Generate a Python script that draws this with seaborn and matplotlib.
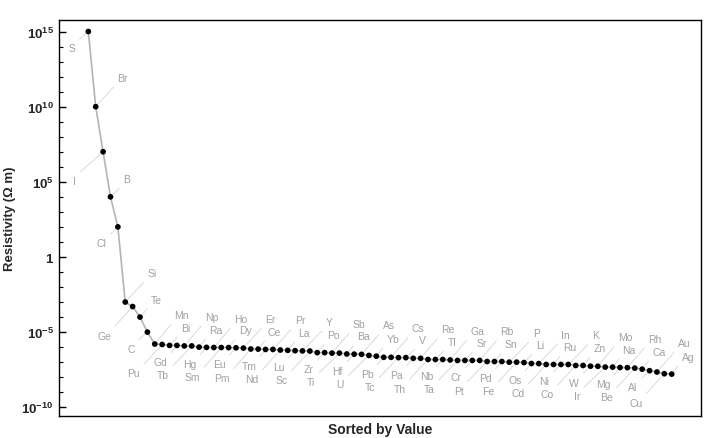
import matplotlib
matplotlib.use("Agg")
import matplotlib.pyplot as plt
import seaborn as sns
import numpy as np
import pandas as pd

# ---- data (sorted by value, descending) ----
elements = ["S", "Br", "I", "B", "Cl", "Si", "Ge", "Te", "C",
            "Mn", "Pu", "Bi", "Gd", "Np", "Tb", "Ra", "Hg", "Ho", "Sm",
            "Dy", "Eu", "Er", "Pm", "Ce", "Tm", "Pr", "Nd", "La", "Lu",
            "Y", "Sc", "Po", "Zr", "Sb", "Ti", "Ba", "Hf", "As", "U",
            "Yb", "Pb", "Cs", "Tc", "V", "Pa", "Re", "Th", "Tl", "Nb",
            "Ga", "Ta", "Sr", "Cr", "Rb", "Pt", "Sn", "Pd", "P", "Fe",
            "Li", "Os", "In", "Cd", "Ru", "Ni", "K", "Co", "Zn", "W",
            "Mo", "Ir", "Na", "Mg", "Rh", "Be", "Ca", "Al", "Au", "Cu", "Ag"]
resistivity = [1e15, 1e10, 1e7, 1e4, 1e2, 1e-3, 5e-4, 1e-4, 1e-5,
               1.6e-6, 1.5e-6, 1.3e-6, 1.3e-6, 1.2e-6, 1.2e-6, 1.0e-6, 9.6e-7, 9.4e-7, 9.4e-7,
               9.3e-7, 9.0e-7, 8.6e-7, 7.5e-7, 7.4e-7, 7.0e-7, 7.0e-7, 6.4e-7, 6.1e-7, 5.8e-7,
               5.6e-7, 5.5e-7, 4.3e-7, 4.3e-7, 4.0e-7, 4.0e-7, 3.5e-7, 3.4e-7, 3.3e-7, 2.8e-7,
               2.5e-7, 2.1e-7, 2.1e-7, 2.0e-7, 2.0e-7, 1.8e-7, 1.8e-7, 1.5e-7, 1.5e-7, 1.5e-7,
               1.4e-7, 1.3e-7, 1.3e-7, 1.3e-7, 1.3e-7, 1.1e-7, 1.1e-7, 1.1e-7, 1.0e-7, 1.0e-7,
               9.4e-8, 8.1e-8, 8.0e-8, 7.0e-8, 7.0e-8, 7.0e-8, 7.0e-8, 6.0e-8, 6.0e-8, 5.4e-8,
               5.3e-8, 4.7e-8, 4.7e-8, 4.4e-8, 4.3e-8, 4.0e-8, 3.4e-8, 2.7e-8, 2.2e-8, 1.7e-8, 1.6e-8]
ytick_values = [1e15, 1e10, 1e5, 1, 1e-5, 1e-10]
ytick_labels = [r"$\mathbf{10^{15}}$", r"$\mathbf{10^{10}}$", r"$\mathbf{10^{5}}$",
                r"$\mathbf{1}$", r"$\mathbf{10^{-5}}$", r"$\mathbf{10^{-10}}$"]

df = pd.DataFrame({"rank": np.arange(len(elements)),
                   "element": elements, "value": resistivity})

sns.set_theme(style="white")
plt.rcParams["font.family"] = ["Liberation Sans", "DejaVu Sans"]
plt.rcParams["mathtext.fontset"] = "custom"
plt.rcParams["mathtext.rm"] = "Liberation Sans"
plt.rcParams["mathtext.bf"] = "Liberation Sans:bold"
plt.rcParams["mathtext.it"] = "Liberation Sans:italic"

fig = plt.figure(figsize=(7.2, 4.39), dpi=100)
ax = fig.add_axes([59.3 / 720, 1 - 416.5 / 439, (700.5 - 59.3) / 720, (416.5 - 20.5) / 439])

sns.lineplot(data=df, x="rank", y="value", ax=ax, color="#b4b4b4", lw=1.2,
             zorder=2, estimator=None, sort=False)
sns.scatterplot(data=df, x="rank", y="value", ax=ax, color="black", s=17,
                edgecolor="none", zorder=3)
ax.set_yscale("log")

# label placement cycle: below-near, above-far, below-far, above-near (pixels)
cycle = [(-16.5, -16.5, (1, 1)), (27, 29, (0, 0)), (-28.5, -29, (1, 1)), (16.5, 17.5, (0, 0))]
for i, (name, v) in enumerate(zip(elements, resistivity)):
    dx, dy, rp = cycle[i % 4]
    ax.annotate(name, xy=(i, v), xytext=(dx, dy), textcoords="offset pixels",
                ha="center", va="center", fontsize=7.5, color="#a0a0a0",
                arrowprops=dict(arrowstyle="-", color="#d4d4d4", lw=0.6,
                                shrinkA=1, shrinkB=2.5, relpos=rp),
                zorder=1)

ax.set_xlim(-3.93, 82.9)
ax.set_ylim(10 ** -10.55, 10 ** 15.8)
ax.set_yticks(ytick_values)
ax.set_yticklabels(ytick_labels, fontsize=9.5)
ax.yaxis.set_minor_locator(matplotlib.ticker.FixedLocator(
    [10.0 ** k for k in range(-10, 16) if k % 5 != 0]))
ax.yaxis.set_minor_formatter(matplotlib.ticker.NullFormatter())
ax.tick_params(axis="y", which="major", direction="in", length=5, width=1,
               color="black", pad=4, left=True)
ax.tick_params(axis="y", which="minor", direction="in", length=3, width=0.8,
               color="black", left=True)
ax.set_xticks([])

for sp in ax.spines.values():
    sp.set_color("black")
    sp.set_linewidth(1.0)

ax.set_xlabel("Sorted by Value", fontsize=10, fontweight="bold", labelpad=5)
ax.set_ylabel("Resistivity (Ω m)", fontsize=9.5, fontweight="bold", labelpad=4)

fig.savefig("out.png", dpi=100)
